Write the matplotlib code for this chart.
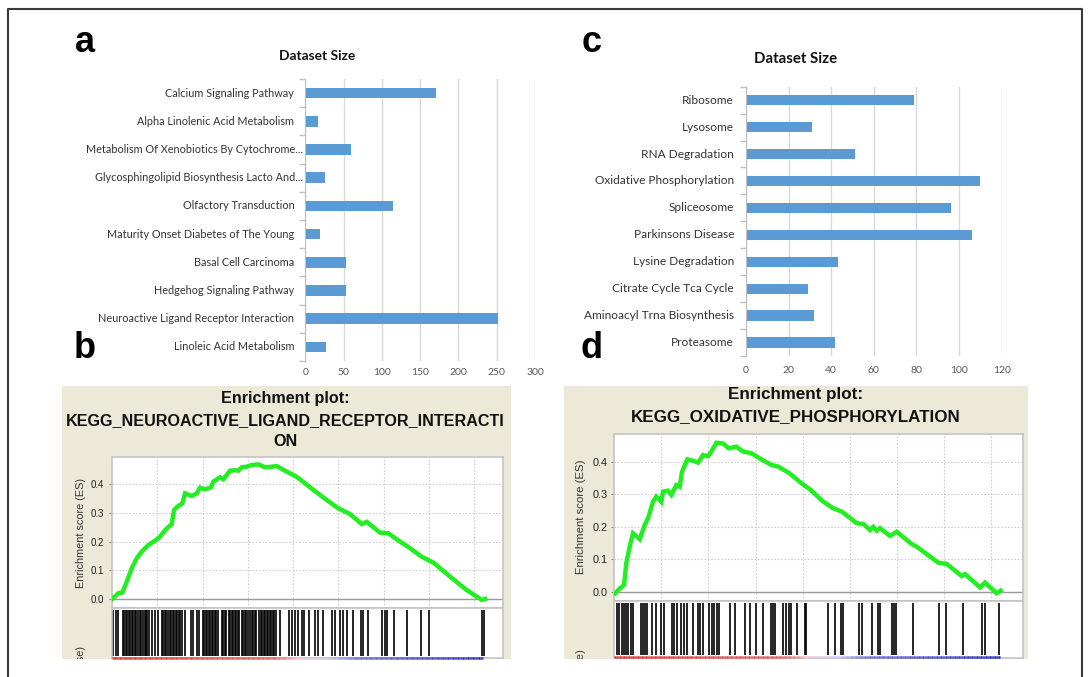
import matplotlib
matplotlib.use('Agg')
import matplotlib.pyplot as plt
import numpy as np
from matplotlib.collections import LineCollection
from matplotlib.colors import LinearSegmentedColormap
from matplotlib.lines import Line2D
from matplotlib import font_manager

# ---------------- data ----------------
a_categories = ["Calcium Signaling Pathway", "Alpha Linolenic Acid Metabolism",
                "Metabolism Of Xenobiotics By Cytochrome...",
                "Glycosphingolipid Biosynthesis Lacto And...",
                "Olfactory Transduction", "Maturity Onset Diabetes of The Young",
                "Basal Cell Carcinoma", "Hedgehog Signaling Pathway",
                "Neuroactive Ligand Receptor Interaction", "Linoleic Acid Metabolism"]
a_sizes = [171, 17, 60, 26, 114, 19, 53, 53, 252, 27]
a_xticks = [0, 50, 100, 150, 200, 250, 300]

c_categories = ["Ribosome", "Lysosome", "RNA Degradation", "Oxidative Phosphorylation",
                "Spliceosome", "Parkinsons Disease", "Lysine Degradation",
                "Citrate Cycle Tca Cycle", "Aminoacyl Trna Biosynthesis", "Proteasome"]
c_sizes = [79, 31, 51, 110, 96, 106, 43, 29, 32, 42]
c_xticks = [0, 20, 40, 60, 80, 100, 120]

bar_title = "Dataset Size"

b_title = ["Enrichment plot:", "KEGG_NEUROACTIVE_LIGAND_RECEPTOR_INTERACTI", "ON"]
d_title = ["Enrichment plot:", "KEGG_OXIDATIVE_PHOSPHORYLATION"]
es_ylabel = "Enrichment score (ES)"
metric_label = "Ranked list metric (Signal2Noise)"
es_yticks = [0.0, 0.1, 0.2, 0.3, 0.4]
rank_grid = [2500, 5000, 7500, 10000, 12500, 15000, 17500, 20000]

b_rank = [0, 348, 568, 811, 1087, 1363, 1639, 2003, 2373, 2649, 2925, 3295, 3422, 3659,
          3880, 4029, 4399, 4675, 4857, 5133, 5464, 5591, 5961, 6143, 6512, 6789, 6971,
          7158, 7434, 7710, 8074, 8444, 8814, 9090, 9548, 10100, 10376, 11110, 11849,
          12489, 13135, 13781, 14057, 14791, 15249, 15895, 16447, 17092, 17733, 18654,
          19576, 20404, 20586]
b_es = [0.0, 0.02, 0.022, 0.06, 0.107, 0.142, 0.165, 0.188, 0.203, 0.217, 0.24, 0.261,
        0.31, 0.324, 0.333, 0.368, 0.359, 0.368, 0.388, 0.382, 0.389, 0.409, 0.424, 0.417,
        0.447, 0.449, 0.447, 0.459, 0.461, 0.467, 0.469, 0.459, 0.461, 0.463, 0.447, 0.429,
        0.417, 0.38, 0.345, 0.316, 0.296, 0.261, 0.269, 0.231, 0.229, 0.2, 0.177, 0.147,
        0.127, 0.078, 0.031, -0.003, 0.0]
b_hits = [72, 221, 348, 590, 673, 756, 839, 921, 1004, 1087, 1176, 1258, 1341, 1424, 1545,
          1628, 1711, 1794, 1876, 1959, 2042, 2191, 2373, 2555, 2743, 2826, 2909, 2991,
          3107, 3190, 3273, 3356, 3438, 3521, 3604, 3687, 3753, 3847, 4029, 4343, 4487,
          4675, 4818, 5006, 5089, 5171, 5254, 5337, 5420, 5502, 5585, 5668, 5751, 5834,
          6054, 6137, 6220, 6303, 6441, 6523, 6606, 6695, 6777, 6860, 6943, 7026, 7158,
          7241, 7324, 7407, 7490, 7616, 7699, 7782, 7865, 7947, 8129, 8212, 8295, 8378,
          8461, 8538, 8626, 8709, 8792, 8874, 8957, 9040, 9272, 9769, 9918, 10100, 10282,
          10470, 10596, 10889, 11204, 11386, 11629, 12125, 12307, 12583, 12765, 12953,
          13284, 13726, 13869, 14145, 14885, 15067, 15194, 15564, 16264, 17054, 17512,
          20437, 20503]
b_list_end = 20500

d_rank = [53, 287, 515, 637, 817, 993, 1348, 1614, 1789, 2054, 2229, 2495, 2585, 2850,
          3026, 3291, 3471, 3594, 3875, 4177, 4443, 4708, 4974, 5186, 5414, 5770, 6072,
          6476, 6831, 7272, 7803, 8334, 8689, 9310, 9926, 10388, 11094, 11625, 12071,
          12867, 13217, 13573, 13748, 13929, 14104, 14635, 14994, 15786, 16052, 17198,
          17644, 18440, 18615, 19411, 19676, 20297, 20510]
d_es = [-0.004, 0.011, 0.021, 0.088, 0.139, 0.18, 0.162, 0.206, 0.226, 0.277, 0.293, 0.277,
        0.308, 0.311, 0.298, 0.328, 0.323, 0.369, 0.407, 0.403, 0.397, 0.42, 0.417, 0.434,
        0.458, 0.456, 0.441, 0.446, 0.431, 0.426, 0.407, 0.39, 0.385, 0.364, 0.334, 0.315,
        0.277, 0.257, 0.247, 0.211, 0.209, 0.19, 0.2, 0.188, 0.196, 0.172, 0.185, 0.147,
        0.139, 0.09, 0.086, 0.049, 0.055, 0.014, 0.029, -0.004, 0.004]
d_hits = [127, 265, 393, 515, 621, 743, 871, 977, 1401, 1507, 1630, 1752, 1985, 2213, 2479,
          2638, 3047, 3169, 3312, 3540, 3700, 3875, 4193, 4427, 4549, 4692, 5035, 5202,
          5308, 5435, 5542, 6141, 6406, 6937, 7202, 7521, 7909, 8318, 8440, 8546, 8971,
          9114, 9257, 9379, 9714, 10122, 10191, 11327, 11715, 12017, 12156, 13005, 13132,
          13663, 14013, 14104, 14724, 14846, 14953, 15839, 17251, 17591, 18525, 19502,
          19676, 20420]
d_list_end = 20450

# ---------------- figure ----------------
W, H = 1089, 677
fig = plt.figure(figsize=(W / 100, H / 100), dpi=100)
fig.patch.set_facecolor('white')

BAR = '#5B9BD5'
BEIGE = '#ECE9D8'
GREEN = '#22EE22'
ARIAL = 'Liberation Sans'
_names = {f.name for f in font_manager.fontManager.ttflist}
CALIBRI = 'Liberation Sans Narrow' if 'Liberation Sans Narrow' in _names else 'Lato'


def add_ax(x0, y0, x1, y1, **kw):
    return fig.add_axes([x0 / W, 1 - y1 / H, (x1 - x0) / W, (y1 - y0) / H], **kw)


def fx(x):
    return x / W


def fy(y):
    return 1 - y / H


def bar_panel(x0, y0, x1, y1, cats, vals, xticks, pad_px, ell_pad_px, xtick_pad):
    ax = add_ax(x0, y0, x1, y1)
    n = len(cats)
    ax.barh(range(n), vals, height=0.38, color=BAR, zorder=3)
    ax.set_ylim(n - 0.5, -0.5)
    ax.set_xlim(xticks[0], xticks[-1])
    ax.set_xticks(xticks)
    ax.set_xticklabels([str(v) for v in xticks], fontsize=7.5, color='#595959',
                       family=CALIBRI)
    ax.tick_params(axis='x', length=0, pad=xtick_pad)
    ax.xaxis.grid(True, color='#D9D9D9', lw=1)
    ax.set_axisbelow(True)
    for s in ['top', 'right', 'bottom']:
        ax.spines[s].set_visible(False)
    ax.spines['left'].set_color('#BFBFBF')
    ax.spines['left'].set_zorder(4)
    ax.set_yticks([])
    ax.set_yticks(np.arange(-0.5, n), minor=True)
    ax.tick_params(axis='y', which='minor', length=4, color='#BFBFBF', width=1)
    ax.set_facecolor('none')
    texts = []
    for i, c in enumerate(cats):
        pad = ell_pad_px if c.endswith('...') else pad_px
        t = ax.annotate(c, xy=(0, i), xycoords=('axes fraction', 'data'),
                        xytext=(-pad * 0.72, 0), textcoords='offset points',
                        ha='right', va='center', fontsize=8, color='#333333',
                        family=CALIBRI)
        texts.append(t)
    return ax, texts


ax_a, a_texts = bar_panel(305.3, 79, 535, 361, a_categories, a_sizes, a_xticks, 11, 2.5, 5)
ax_c, c_texts = bar_panel(746, 86.7, 1001.7, 356, c_categories, c_sizes, c_xticks, 12, 2.5, 7)

ta = fig.text(fx(317), fy(56), bar_title, ha='center', va='center', fontsize=10,
              fontweight='bold', family=CALIBRI, color='#111111')
tc = fig.text(fx(796), fy(59), bar_title, ha='center', va='center', fontsize=10,
              fontweight='bold', family=CALIBRI, color='#111111')

cmap_rank = LinearSegmentedColormap.from_list(
    'rank', [(0.0, '#d83030'), (0.44, '#e06060'), (0.50, '#f0c8d8'),
             (0.58, '#c8c8f0'), (0.66, '#6868d8'), (1.0, '#2828b4')])


def gsea_panel(beige, es_box, bc_y1, title_lines, title_ys, title_cx, rank, es, hits,
               list_end, ylim, xmax, ylab_x, ylab_y, tick_fs, tick_pad, metric_top):
    bx0, by0, bx1, by1 = beige
    axb = add_ax(bx0, by0, bx1, by1)
    axb.set_facecolor(BEIGE)
    axb.set_xticks([])
    axb.set_yticks([])
    for s in axb.spines.values():
        s.set_visible(False)
    # clipped label of the lower (cut-off) panel
    mt = axb.text(fx(ylab_x), fy(metric_top), metric_label, rotation=90, ha='center',
                  va='top', fontsize=tick_fs + 1, family=ARIAL, color='#333333',
                  transform=fig.transFigure, clip_on=True)

    x0, y0, x1, y1 = es_box
    ax = add_ax(x0, y0, x1, y1)
    ax.set_facecolor('white')
    ax.plot(rank, es, color=GREEN, lw=3.2, solid_joinstyle='miter', zorder=3)
    ax.axhline(0, color='#9a9a9a', lw=1.0, zorder=2)
    ax.set_xlim(0, xmax)
    ax.set_ylim(*ylim)
    ax.set_xticks(rank_grid)
    ax.set_xticklabels([])
    ax.set_yticks(es_yticks)
    ax.set_yticklabels(['%.1f' % v for v in es_yticks])
    ax.tick_params(axis='x', length=0)
    ax.tick_params(axis='y', length=2, width=0.8, color='#888888', pad=tick_pad,
                   labelsize=tick_fs, labelcolor='#222222')
    for lab in ax.get_yticklabels():
        lab.set_family(ARIAL)
    ax.grid(True, color='#cfcfcf', lw=0.8, ls=(0, (1.5, 1.5)))
    for s in ax.spines.values():
        s.set_color('#c4c4c4')
        s.set_linewidth(1.2)

    axh = add_ax(x0, y1, x1, bc_y1)
    axh.set_facecolor('white')
    axh.set_xlim(0, xmax)
    axh.set_ylim(0, 1)
    axh.vlines(hits, 0.05, 0.96, color='black', lw=1.2)
    xs = np.linspace(0, list_end, 300)
    pts = np.array([xs, np.full_like(xs, 0.01)]).T.reshape(-1, 1, 2)
    segs = np.concatenate([pts[:-1], pts[1:]], axis=1)
    lc = LineCollection(segs, colors=cmap_rank(np.linspace(0, 1, len(segs))), lw=1.8,
                        clip_on=False, zorder=5)
    axh.add_collection(lc)
    axh.set_xticks([])
    axh.set_yticks([])
    for s in axh.spines.values():
        s.set_color('#c4c4c4')
        s.set_linewidth(1.2)

    tts = []
    for line, yy in zip(title_lines, title_ys):
        tts.append(fig.text(fx(title_cx), fy(yy), line, ha='center', va='center',
                            fontsize=11.5, fontweight='bold', family=ARIAL, color='#111111'))
    yl = fig.text(fx(ylab_x), fy(ylab_y), es_ylabel, rotation=90, ha='center',
                  va='center', fontsize=tick_fs + 1, family=ARIAL, color='#333333')
    return tts, yl, mt


b_tts, b_yl, b_mt = gsea_panel((62, 386, 511, 659), (112, 457, 503, 608), 658, b_title,
                               [398, 421, 441], 285, b_rank, b_es, b_hits, b_list_end,
                               (-0.0314, 0.4948), 21579, 81, 533, 7.0, 3.5, 646)
d_tts, d_yl, d_mt = gsea_panel((564, 386, 1028, 659), (614.3, 434.3, 1022.7, 600.7), 658,
                               d_title, [395, 417], 796, d_rank, d_es, d_hits, d_list_end,
                               (-0.0267, 0.484), 21678, 581.5, 517, 7.8, 3.0, 649)

# panel letters
for letter, x, y in [('a', 75, 52), ('b', 74, 358), ('c', 582, 52), ('d', 581, 358)]:
    fig.text(fx(x), fy(y), letter, ha='left', va='baseline', fontsize=26,
             fontweight='bold', family=ARIAL, color='black')

# outer frame
fig.add_artist(Line2D([fx(8), fx(8), fx(1082), fx(1082)], [0, fy(9), fy(9), 0],
                      color='#3a3a3a', lw=1.5, transform=fig.transFigure))

# ---------------- fit text widths to reference ----------------
fig.canvas.draw()
renderer = fig.canvas.get_renderer()


def fit(texts, ref, target, vertical=False):
    bb = ref.get_window_extent(renderer)
    w = bb.height if vertical else bb.width
    s = ref.get_fontsize() * target / w
    for t in texts:
        t.set_fontsize(s)


fit(a_texts, a_texts[8], 196)
fit(c_texts, c_texts[3], 140)
fit([ta], ta, 76)
fit([tc], tc, 83)
fit(b_tts, b_tts[1], 438)
fit(d_tts, d_tts[1], 330)
fit([b_yl, b_mt], b_yl, 110, vertical=True)
fit([d_yl, d_mt], d_yl, 115, vertical=True)

fig.savefig('out.png', dpi=100, facecolor='white')
